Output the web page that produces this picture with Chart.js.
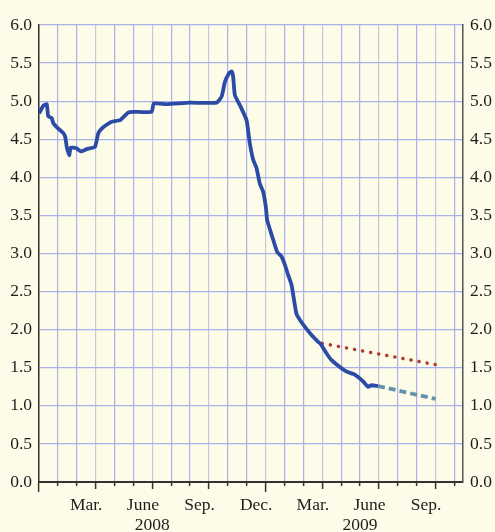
<!DOCTYPE html>
<html>
<head>
<meta charset="utf-8">
<script src="https://cdn.jsdelivr.net/npm/chart.js@4/dist/chart.umd.min.js"></script>
<style>
  html, body { margin: 0; padding: 0; background: #fdfce9; }
  canvas { display: block; }
</style>
</head>
<body>
<canvas id="chart" width="495" height="532"></canvas>
<script>
// x is measured in months since 1 Jan 2008
const seriesMonths = [0.00, 0.23, 0.41, 0.49, 0.67, 0.76, 1.02, 1.29, 1.39, 1.47, 1.60, 1.68, 1.99, 2.22, 2.52, 2.96,
    3.14, 3.32, 3.58, 3.85, 4.29, 4.72, 4.99, 5.96, 6.08, 6.76, 7.99, 9.40, 9.67, 9.84, 10.07, 10.20, 10.28, 10.37,
    10.63, 10.99, 11.16, 11.34, 11.52, 11.69, 11.87, 12.01, 12.08, 12.26, 12.40, 12.61, 12.84, 13.02, 13.19, 13.37,
    13.49, 13.63, 13.81, 14.07, 14.43, 14.78, 14.92, 15.22, 15.49, 15.93, 16.28, 16.63, 16.89, 17.16, 17.42, 17.60, 17.95];
const seriesValues = [4.84, 4.94, 4.96, 4.80, 4.78, 4.71, 4.64, 4.58, 4.53, 4.40, 4.29, 4.39, 4.38, 4.34, 4.37, 4.40,
    4.58, 4.64, 4.69, 4.73, 4.75, 4.85, 4.86, 4.86, 4.97, 4.96, 4.98, 4.98, 5.06, 5.25, 5.37, 5.39, 5.32, 5.08,
    4.95, 4.75, 4.45, 4.23, 4.12, 3.92, 3.81, 3.61, 3.44, 3.29, 3.18, 3.02, 2.96, 2.85, 2.72, 2.59,
    2.41, 2.21, 2.13, 2.04, 1.93, 1.84, 1.81, 1.69, 1.60, 1.51, 1.45, 1.42, 1.38, 1.32, 1.25, 1.27, 1.26];

const dottedMonths = [15, 21];
const dottedValues = [1.82, 1.54];
const dashedMonths = [17.95, 21];
const dashedValues = [1.26, 1.09];

const monthGrid = [0, 1, 2, 3, 4, 5, 6, 7, 8, 9, 10, 11, 12, 13, 14, 15, 16, 17, 18, 19, 20, 21, 22];
const monthLabelPos = [2.5, 5.5, 8.5, 11.5, 14.5, 17.5, 20.5];
const monthLabels = ['Mar.', 'June', 'Sep.', 'Dec.', 'Mar.', 'June', 'Sep.'];
const yearLabelPos = [6, 17];
const yearLabels = ['2008', '2009'];
const xMax = 22.45;

const font = { family: "'Liberation Serif', 'DejaVu Serif', serif", size: 17.5 };
const textColor = '#1e1e1e';

function toPoints(xs, ys) {
    return xs.map((x, i) => ({ x: x, y: ys[i] }));
}

function fixedTicks(list) {
    return scale => { scale.ticks = list.map(v => ({ value: v })); };
}

const labelAxis = (list, labels, weight, height, pad) => ({
    type: 'linear',
    position: 'bottom',
    weight: weight,
    min: 0,
    max: xMax,
    afterBuildTicks: fixedTicks(list),
    afterFit: s => { s.height = height; },
    grid: { display: false, drawTicks: false },
    border: { display: false },
    ticks: {
        autoSkip: false,
        maxRotation: 0,
        padding: pad,
        color: textColor,
        font: font,
        callback: (v, i) => labels[i]
    }
});

new Chart(document.getElementById('chart'), {
    type: 'line',
    data: {
        datasets: [{
            data: toPoints(seriesMonths, seriesValues),
            borderColor: '#2b4ba6',
            borderWidth: 3.8,
            pointRadius: 0,
            borderJoinStyle: 'round',
            tension: 0.15
        }, {
            data: toPoints(dottedMonths, dottedValues),
            borderColor: '#b23a2c',
            borderWidth: 3.5,
            borderDash: [0.1, 8.1],
            borderCapStyle: 'round',
            pointRadius: 0
        }, {
            data: toPoints(dashedMonths, dashedValues),
            borderColor: '#6592ab',
            borderWidth: 3.8,
            borderDash: [7, 4],
            pointRadius: 0
        }]
    },
    options: {
        responsive: false,
        devicePixelRatio: 1,
        animation: false,
        layout: { padding: { top: 25, left: 0, right: 0, bottom: 0 } },
        plugins: { legend: { display: false }, tooltip: { enabled: false } },
        scales: {
            x: {
                type: 'linear',
                position: 'bottom',
                weight: 0,
                min: 0,
                max: xMax,
                afterBuildTicks: fixedTicks(monthGrid),
                afterFit: s => { s.height = 10; },
                ticks: { display: false },
                border: { color: '#333', width: 2 },
                grid: {
                    color: c => (c.tick && c.tick.value % 3 === 0) ? '#c6c8d8' : '#abb0ea',
                    lineWidth: 1.2,
                    tickLength: 10,
                    tickColor: '#333',
                    tickWidth: 1.5,
                    tickBorderDash: c => {
                        const v = c.tick ? c.tick.value : 1;
                        if (v % 12 === 0) return [];
                        if (v % 3 === 0) return [6, 20];
                        return [3, 20];
                    }
                }
            },
            xm: labelAxis(monthLabelPos, monthLabels, 1, 22, 3),
            xy: labelAxis(yearLabelPos, yearLabels, 2, 18, 1),
            y: {
                position: 'left',
                min: 0,
                max: 6,
                afterFit: s => { s.width = 39; },
                ticks: {
                    stepSize: 0.5,
                    padding: 7,
                    color: textColor,
                    font: font,
                    callback: v => v.toFixed(1)
                },
                border: { color: '#333', width: 1.5 },
                grid: { color: '#abb0ea', lineWidth: 1.2, drawTicks: false }
            },
            y2: {
                position: 'right',
                min: 0,
                max: 6,
                afterFit: s => { s.width = 32; },
                ticks: {
                    stepSize: 0.5,
                    padding: 7,
                    color: textColor,
                    font: font,
                    callback: v => v.toFixed(1)
                },
                border: { color: '#555', width: 1.5 },
                grid: { drawOnChartArea: false, drawTicks: false }
            }
        }
    }
});
</script>
</body>
</html>
